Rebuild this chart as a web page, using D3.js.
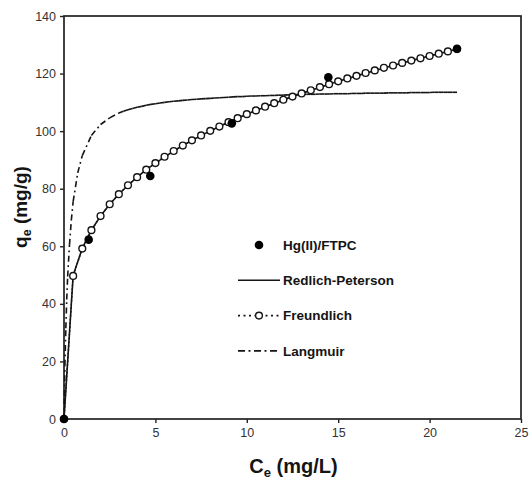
<!DOCTYPE html>
<html>
<head>
<meta charset="utf-8">
<script src="https://cdn.jsdelivr.net/npm/d3@7"></script>
<style>
  body { margin: 0; background: #fff; }
  text { font-family: "Liberation Sans", Arial, sans-serif; }
</style>
</head>
<body>
<div id="chart-area"></div>
<script>
// experimental points
var hgC = [0, 1.35, 4.72, 9.18, 14.46, 21.5];
var hgQ = [0, 62.3, 84.4, 102.7, 118.7, 128.6];

// model curves, C grid of 0.5 mg/L
var fitC = [0, 0.5, 1, 1.5, 2, 2.5, 3, 3.5, 4, 4.5, 5, 5.5, 6, 6.5, 7, 7.5, 8, 8.5, 9, 9.5, 10,
	10.5, 11, 11.5, 12, 12.5, 13, 13.5, 14, 14.5, 15, 15.5, 16, 16.5, 17, 17.5, 18, 18.5, 19, 19.5,
	20, 20.5, 21, 21.5];
var freundQ = [0, 49.7, 59.2, 65.6, 70.5, 74.6, 78.1, 81.2, 84.0, 86.6, 88.9, 91.1, 93.1, 95.0,
	96.8, 98.5, 100.1, 101.6, 103.1, 104.5, 105.9, 107.2, 108.5, 109.7, 110.9, 112.0, 113.1, 114.2,
	115.3, 116.3, 117.3, 118.3, 119.2, 120.2, 121.1, 122.0, 122.8, 123.7, 124.5, 125.3, 126.1,
	126.9, 127.7, 128.5];
var rpQ = [0, 49.9, 59.3, 65.6, 70.5, 74.6, 78.1, 81.2, 84.0, 86.6, 88.9, 91.0, 93.1, 95.0,
	96.8, 98.5, 100.1, 101.6, 103.1, 104.5, 105.9, 107.2, 108.4, 109.7, 110.8, 112.0, 113.1, 114.2,
	115.2, 116.3, 117.3, 118.2, 119.2, 120.1, 121.0, 121.9, 122.8, 123.7, 124.5, 125.3, 126.1,
	126.9, 127.7, 128.5];

// Langmuir, finer grid
var langC = [0, 0.02, 0.05, 0.1, 0.15, 0.2, 0.3, 0.4, 0.5, 0.75, 1, 1.5, 2, 2.5,
	3, 3.25, 3.5, 3.75, 4, 4.25, 4.5, 4.75, 5, 5.25, 5.5, 5.75, 6, 6.25, 6.5, 6.75, 7, 7.25, 7.5, 7.75,
	8, 8.25, 8.5, 8.75, 9, 9.25, 9.5, 9.75, 10, 10.25, 10.5, 10.75, 11, 11.25, 11.5, 11.75,
	12, 12.25, 12.5, 12.75, 13, 13.25, 13.5, 13.75, 14, 14.25, 14.5, 14.75, 15, 15.25, 15.5, 15.75,
	16, 16.25, 16.5, 16.75, 17, 17.25, 17.5, 17.75, 18, 18.25, 18.5, 18.75, 19, 19.25, 19.5, 19.75,
	20, 20.25, 20.5, 20.75, 21, 21.25, 21.5];
var langQ = [0, 8.0, 18.5, 31.5, 41.5, 49.5, 60.5, 69.0, 75.5, 85.5, 91.5, 98.5, 102.3, 104.6,
	106.3, 106.9, 107.4, 107.9, 108.3, 108.6, 109.0, 109.3, 109.5, 109.8, 110.0, 110.2, 110.4, 110.5,
	110.7, 110.8, 111.0, 111.1, 111.2, 111.3, 111.4, 111.5, 111.6, 111.7, 111.8, 111.9, 112.0, 112.0,
	112.1, 112.2, 112.2, 112.3, 112.3, 112.4, 112.4, 112.5, 112.5, 112.6, 112.6, 112.7, 112.7, 112.8,
	112.8, 112.8, 112.9, 112.9, 112.9, 113.0, 113.0, 113.0, 113.0, 113.1, 113.1, 113.1, 113.2, 113.2,
	113.2, 113.2, 113.2, 113.3, 113.3, 113.3, 113.3, 113.3, 113.4, 113.4, 113.4, 113.4, 113.4, 113.5,
	113.5, 113.5, 113.5, 113.5, 113.5];

var xTicks = [0, 5, 10, 15, 20, 25];
var yTicks = [0, 20, 40, 60, 80, 100, 120, 140];
var legendNames = ["Hg(II)/FTPC", "Redlich-Peterson", "Freundlich", "Langmuir"];

var mwidth = 529, mheight = 479;
var margin = {top: 16, right: 8, bottom: 60, left: 64};
var w = mwidth - margin.left - margin.right;
var h = mheight - margin.top - margin.bottom;

var ink = "#141414";
var dashDot = "6,3.5,1.8,3.5";

var svg = d3.select("#chart-area").append("svg")
	.attr("width", mwidth)
	.attr("height", mheight);

var g = svg.append("g")
	.attr("transform", "translate(" + margin.left + "," + margin.top + ")");

var x = d3.scaleLinear().domain([0, 25]).range([0, w]);
var y = d3.scaleLinear().domain([0, 140]).range([h, 0]);

// frame
g.append("rect")
	.attr("width", w).attr("height", h)
	.attr("fill", "none").attr("stroke", "#222").attr("stroke-width", 1.7);

var xAxis = d3.axisBottom(x).tickValues(xTicks).tickSize(4).tickPadding(5);
var yAxis = d3.axisLeft(y).tickValues(yTicks).tickSize(4).tickPadding(4);

g.append("g").attr("transform", "translate(0," + h + ")").call(xAxis)
	.call(function(a) { a.select(".domain").remove(); });
g.append("g").call(yAxis)
	.call(function(a) { a.select(".domain").remove(); });

g.selectAll(".tick line").attr("stroke", "#222").attr("stroke-width", 1.4);
g.selectAll(".tick text")
	.attr("font-family", "Liberation Sans, Arial, sans-serif")
	.attr("font-size", "12.5px").attr("fill", "#333");

var line = d3.line().x(function(d) { return x(d[0]); }).y(function(d) { return y(d[1]); });

// Langmuir: each segment restarts its dash pattern, like the original plotting program
var langSegs = d3.pairs(d3.zip(langC, langQ));
g.selectAll(".lang").data(langSegs).enter().append("path")
	.attr("class", "lang")
	.attr("d", function(d) { return line(d); })
	.attr("fill", "none").attr("stroke", ink).attr("stroke-width", 1.6)
	.attr("stroke-dasharray", dashDot);

// Freundlich dotted line
g.append("path")
	.attr("d", line(d3.zip(fitC, freundQ)))
	.attr("fill", "none").attr("stroke", ink).attr("stroke-width", 1.4)
	.attr("stroke-dasharray", "1.8,2");

// Redlich-Peterson solid
g.append("path")
	.attr("d", line(d3.zip(fitC, rpQ)))
	.attr("fill", "none").attr("stroke", ink).attr("stroke-width", 1.6);

// Freundlich markers
g.selectAll(".fm").data(d3.zip(fitC, freundQ)).enter().append("circle")
	.attr("class", "fm")
	.attr("cx", function(d) { return x(d[0]); })
	.attr("cy", function(d) { return y(d[1]); })
	.attr("r", 3.4)
	.attr("fill", "#fff").attr("stroke", ink).attr("stroke-width", 1.4);

// data points
g.selectAll(".hg").data(d3.zip(hgC, hgQ)).enter().append("circle")
	.attr("class", "hg")
	.attr("cx", function(d) { return x(d[0]); })
	.attr("cy", function(d) { return y(d[1]); })
	.attr("r", 4.3)
	.attr("fill", "#000");

// legend
var lg = svg.append("g").attr("transform", "translate(238,245)");
var rowH = 35.3;
legendNames.forEach(function(name, i) {
	var row = lg.append("g").attr("transform", "translate(0," + (i * rowH) + ")");
	if (i === 0) {
		row.append("circle").attr("cx", 21).attr("cy", 0).attr("r", 4.3).attr("fill", "#000");
	} else if (i === 1) {
		row.append("line").attr("x1", 0).attr("x2", 42).attr("stroke", ink).attr("stroke-width", 1.6);
	} else if (i === 2) {
		row.append("line").attr("x1", 0).attr("x2", 42).attr("stroke", ink).attr("stroke-width", 1.6)
			.attr("stroke-dasharray", "2,3.5");
		row.append("circle").attr("cx", 21).attr("cy", 0).attr("r", 3.4)
			.attr("fill", "#fff").attr("stroke", ink).attr("stroke-width", 1.4);
	} else {
		row.append("line").attr("x1", 0).attr("x2", 42).attr("stroke", ink).attr("stroke-width", 1.6)
			.attr("stroke-dasharray", "7,3.5,2,3.5");
	}
	row.append("text")
		.attr("x", 45).attr("y", 0).attr("dy", "0.35em")
		.attr("font-size", "13.5px").attr("font-weight", "bold").attr("fill", ink)
		.text(name);
});

// axis titles
var xt = svg.append("text")
	.attr("x", margin.left + w / 2 + 1).attr("y", 473)
	.attr("text-anchor", "middle")
	.attr("font-size", "20px").attr("font-weight", "bold").attr("fill", ink);
xt.append("tspan").text("C");
xt.append("tspan").attr("font-size", "13px").attr("dy", 4).text("e");
xt.append("tspan").attr("dy", -4).text(" (mg/L)");

var yt = svg.append("text")
	.attr("transform", "translate(27,207) rotate(-90)")
	.attr("text-anchor", "middle")
	.attr("font-size", "19px").attr("font-weight", "bold").attr("fill", ink);
yt.append("tspan").text("q");
yt.append("tspan").attr("font-size", "12.5px").attr("dy", 4).text("e");
yt.append("tspan").attr("dy", -4).text(" (mg/g)");
</script>
</body>
</html>
